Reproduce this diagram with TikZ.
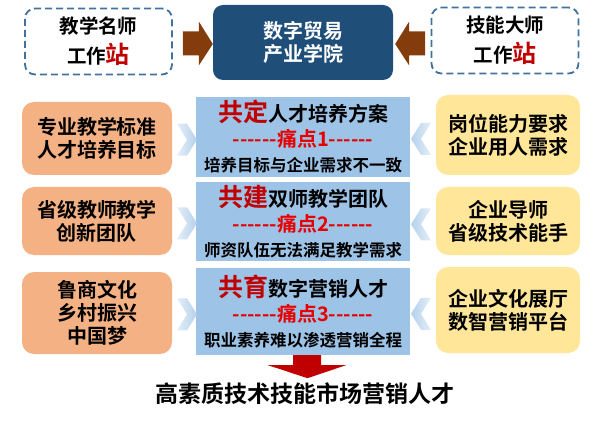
\documentclass[tikz,border=0pt]{standalone}
\usepackage{fontspec}
\setmainfont{Noto Sans CJK SC}[BoldFont={Noto Sans CJK SC Bold}, Ligatures=TeXOff]
\usepackage{xcolor}
\usetikzlibrary{calc}
\definecolor{navy}{HTML}{1F4E79}
\definecolor{dashblue}{HTML}{41719C}
\definecolor{brn}{HTML}{843C0C}
\definecolor{peach}{HTML}{F4B183}
\definecolor{butter}{HTML}{FFE699}
\definecolor{sky}{HTML}{9DC3E6}
\definecolor{chevblue}{HTML}{B4D1EC}
\definecolor{deepred}{HTML}{C00000}
\definecolor{brightred}{HTML}{E60000}
\newcommand{\redw}[1]{\textcolor{deepred}{#1}}
\newcommand{\zhan}{{\fontsize{24}{24}\selectfont\redw{站}}}
\newcommand{\pain}[1]{\textcolor{brightred}{------痛点#1------}}

\begin{document}
\begin{tikzpicture}[x=1pt, y=-1pt,
    dashbox/.style={rectangle, draw=dashblue, line width=1.8pt, dash pattern=on 7pt off 4pt, rounded corners=10pt, minimum width=147, minimum height=66, align=center, font=\fontsize{19.5}{30}\selectfont\bfseries},
    collegebox/.style={rectangle, fill=navy, rounded corners=10pt, minimum width=180, minimum height=75, align=center, text=white, font=\fontsize{20}{23}\selectfont\bfseries},
    leftbox/.style={rectangle, fill=peach, rounded corners=12pt, minimum width=150, align=center, font=\fontsize{20}{23}\selectfont\bfseries},
    rightbox/.style={rectangle, fill=butter, rounded corners=12pt, minimum width=144, align=center, font=\fontsize{20}{23}\selectfont\bfseries},
    midbox/.style={rectangle, fill=sky, minimum width=214, align=center, font=\fontsize{20}{25}\selectfont\bfseries},
    blockarrow/.style={fill=brn},
    downarrow/.style={fill=deepred},
    chevR/.style={left color=chevblue!35, right color=chevblue},
    chevL/.style={left color=chevblue, right color=chevblue!35}
]
\useasboundingbox (0,0) rectangle (600,425);

% top row
\node[dashbox] (wsL) at (98.5,41.5) {教学名师\\工作\zhan};
\node[collegebox] (college) at (303,42.5) {数字贸易\\产业学院};
\node[dashbox] (wsR) at (505,40.5) {技能大师\\工作\zhan};

\fill[blockarrow] ($(college.west)+(-30,-11)$) -- ++(16,0) -- ++(0,-10) -- ($(college.west)+(0,1.5)$)
  -- ($(college.west)+(-14,23)$) -- ++(0,-10) -- ++(-16,0) -- cycle;
\fill[blockarrow] ($(college.east)+(32,-11)$) -- ++(-16,0) -- ++(0,-10) -- ($(college.east)+(2,1.5)$)
  -- ($(college.east)+(16,23)$) -- ++(0,-10) -- ++(16,0) -- cycle;

% left column
\node[leftbox, minimum height=73] (lb1) at (97,138.5) {专业教学标准\\人才培养目标};
\node[leftbox, minimum height=68] (lb2) at (97,221) {省级教师教学\\创新团队};
\node[leftbox, minimum height=82] (lb3) at (97,313) {鲁商文化\\乡村振兴\\中国梦};

% middle column
\node[midbox, minimum height=78] (mb1) at (303,137) {{\fontsize{25}{25}\selectfont\redw{共定}}人才培养方案\\ \pain{1}\\ {\fontsize{16.5}{20}\selectfont 培养目标与企业需求不一致}};
\node[midbox, minimum height=79] (mb2) at (303,221.5) {{\fontsize{25}{25}\selectfont\redw{共建}}双师教学团队\\ \pain{2}\\ {\fontsize{16.5}{20}\selectfont 师资队伍无法满足教学需求}};
\node[midbox, minimum height=87] (mb3) at (303,311.5) {{\fontsize{25}{25}\selectfont\redw{共育}}数字营销人才\\ \pain{3}\\ {\fontsize{16.5}{20}\selectfont 职业素养难以渗透营销全程}};

% right column
\node[rightbox, minimum height=80] (rb1) at (508,135) {岗位能力要求\\企业用人需求};
\node[rightbox, minimum height=68] (rb2) at (508,221) {企业导师\\省级技术能手};
\node[rightbox, minimum height=86] (rb3) at (508,310) {企业文化展厅\\数智营销平台};

% chevrons
\foreach \r in {1,2,3} {
  \coordinate (cl\r) at ($(lb\r.east)!0.5!(mb\r.west)+(3,2)$);
  \coordinate (cr\r) at ($(mb\r.east)!0.5!(rb\r.west)+(-2,3)$);
  \shade[chevR] ($(cl\r)+(-10,-16)$) -- ++(10,0) -- ++(10,16) -- ++(-10,16) -- ++(-10,0) -- ++(10,-16) -- cycle;
  \shade[chevL] ($(cr\r)+(10,-16)$) -- ++(-10,0) -- ++(-10,16) -- ++(10,16) -- ++(10,0) -- ++(-10,-16) -- cycle;
}

% result
\node[font=\fontsize{23}{23}\selectfont\bfseries] (goal) at (305,394) {高素质技术技能市场营销人才};
\fill[downarrow] ($(mb3.south)+(-10,0)$) -- ++(28,0) -- ++(0,10) -- ++(25,0) -- ($(mb3.south)+(4.5,23)$)
  -- ($(mb3.south)+(-35,10)$) -- ++(25,0) -- cycle;
\end{tikzpicture}
\end{document}
